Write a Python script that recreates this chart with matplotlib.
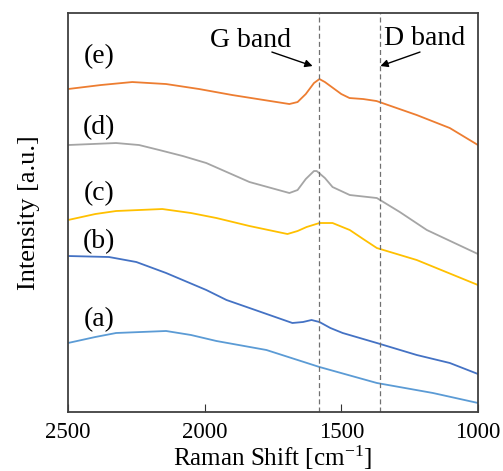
import matplotlib

matplotlib.use("Agg")
import matplotlib.pyplot as plt

plt.rcParams["font.family"] = ["Liberation Serif", "DejaVu Serif"]
plt.rcParams["mathtext.fontset"] = "stix"

# Raman spectra (offset intensities, arbitrary units)
shift_a = [2500, 2400, 2324, 2141, 2050, 1957, 1774, 1580, 1370, 1165, 1000]
int_a = [69, 75, 79, 81, 77, 71, 62, 45, 29, 19, 9]

shift_b = [2500, 2350, 2250, 2141, 1994, 1920, 1836, 1679, 1640, 1609, 1580, 1540, 1495, 1370, 1224, 1103, 1000]
int_b = [156, 155, 150, 139, 122, 112, 104, 89, 90, 92, 90, 84, 79, 69, 57, 49, 38]

shift_c = [2500, 2400, 2324, 2155, 2050, 1957, 1836, 1697, 1660, 1627, 1580, 1532, 1469, 1420, 1370, 1224, 1000]
int_c = [192, 198, 201, 203, 199, 194, 186, 178, 181, 185, 189, 189, 182, 173, 164, 152, 127]

shift_d = [2500, 2324, 2240, 2166, 2080, 1994, 1836, 1690, 1660, 1630, 1600, 1590, 1560, 1532, 1469, 1370, 1286, 1187, 1000]
int_d = [267, 269, 267, 262, 256, 249, 230, 219, 222, 233, 241, 241, 234, 225, 217, 214, 200, 182, 158]

shift_e = [2500, 2380, 2265, 2141, 2020, 1899, 1690, 1660, 1630, 1600, 1580, 1560, 1530, 1500, 1470, 1420, 1371, 1224, 1103, 1000]
int_e = [323, 327, 330, 328, 323, 317, 308, 310, 318, 329, 333, 330, 324, 318, 314, 313, 311, 297, 284, 267]

labels = ["(a)", "(b)", "(c)", "(d)", "(e)"]
label_y = [92, 170, 218, 284, 355]
colors = ["#5B9BD5", "#4472C4", "#FFC000", "#A5A5A5", "#ED7D31"]

g_band = 1580
d_band = 1360

fig = plt.figure(figsize=(5.03, 4.71), dpi=100)
ax = fig.add_axes([0.1352, 0.1253, 0.815, 0.847])

series = [(shift_a, int_a), (shift_b, int_b), (shift_c, int_c), (shift_d, int_d), (shift_e, int_e)]
for (x, y), c in zip(series, colors):
    ax.plot(x, y, color=c, lw=1.3)

for lab, ly in zip(labels, label_y):
    ax.text(2386, ly, lab, fontsize=20, ha="center", va="center")

for xb in (g_band, d_band):
    ax.axvline(xb, color="#707070", lw=0.9, ls=(0, (4, 2.5)))

# band annotations
ax.text(1834, 372, "G band", fontsize=20, ha="center", va="center")
ax.text(1194, 374, "D band", fontsize=20, ha="center", va="center")
arrow = dict(arrowstyle="-|>", color="black", lw=1.0, shrinkA=0, shrinkB=0, mutation_scale=11)
ax.annotate("", xy=(g_band + 25, 346), xytext=(1754, 360), arrowprops=arrow)
ax.annotate("", xy=(d_band - 3, 346), xytext=(1212, 360), arrowprops=arrow)

ax.set_xlim(2500, 1000)
ax.set_ylim(0, 399)
ax.set_xticks([2500, 2000, 1500, 1000])
ax.set_yticks([])
ax.tick_params(axis="x", direction="in", length=6, labelsize=16.5, pad=7, color="#333333")
fig.text(273 / 503, 1 - 466 / 471, r"Raman Shift [cm$^{\mathregular{-1}}$]",
         fontsize=18, ha="center", va="baseline")
ax.set_ylabel("Intensity [a.u.]", fontsize=19, labelpad=20)
for s in ax.spines.values():
    s.set_color("#404040")
    s.set_linewidth(1.3)

fig.savefig("out.png", dpi=100)
